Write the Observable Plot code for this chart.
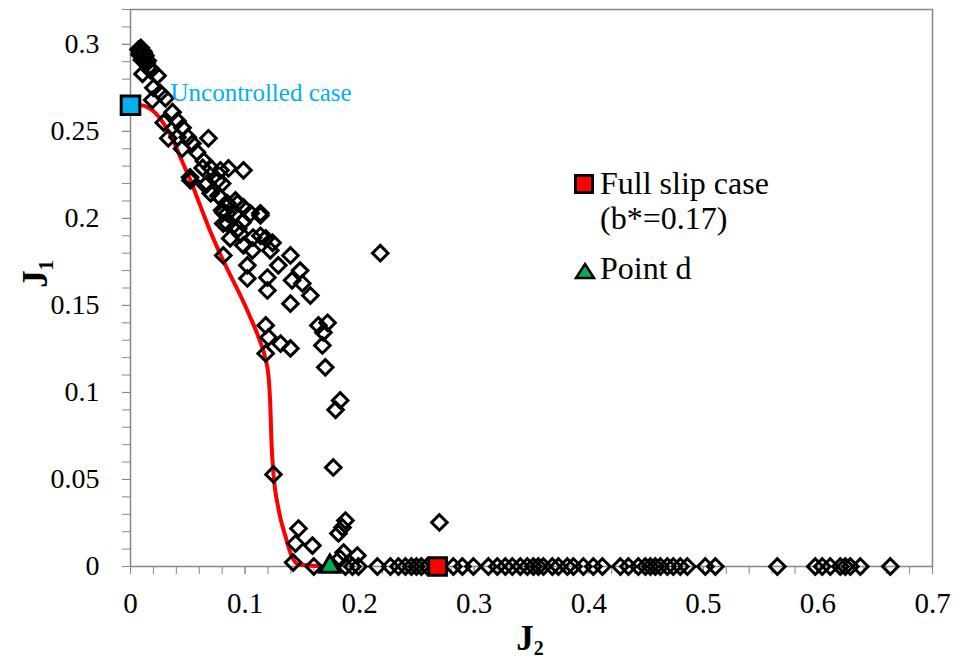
<!DOCTYPE html>
<html><head><meta charset="utf-8">
<script src="https://cdn.jsdelivr.net/npm/d3@7"></script>
<script src="https://cdn.jsdelivr.net/npm/@observablehq/plot@0.6"></script>
<style>body{margin:0;background:#fff} svg{display:block}</style>
</head><body><div id="chart"></div>
<script>
// Simulation results (diamonds)
const diamondJ2 = [0.007,0.009,0.011,0.008,0.012,0.010,0.014,0.016,0.0095,0.0115,0.013,0.015,0.0125,0.0085,
 0.0105,0.0175,0.0236,0.020,0.026,0.019,0.0305,0.0367,0.029,0.041,0.0454,0.033,0.041,0.050,0.054,0.068,0.045,0.058,0.064,0.052,0.063,0.070,0.0785,0.0855,0.0986,0.067,0.076,0.070,0.0785,0.0846,0.0934,0.081,0.0916,0.1134,0.0977,0.0846,
 0.0524,0.0654,0.080,0.0768,0.0916,0.0986,0.1047,0.1134,0.080,0.0846,0.081,0.094,0.096,0.087,0.107,0.1134,0.118,0.124,0.0986,0.1064,0.122,0.1396,0.081,0.129,0.102,0.148,0.102,0.1195,0.141,0.150,0.1195,0.157,0.1396,0.118,0.164,0.172,0.1684,0.1204,0.131,0.1396,0.118,0.1675,0.170,0.218,
 0.183,0.179,0.177,0.1248,0.1876,0.185,0.1815,0.1466,0.144,0.1588,0.142,0.160,0.186,0.198,0.183,0.2696,
 0.1876,0.1937,0.1990,0.2155,0.2269,0.2339,0.240,0.2452,0.2496,0.2539,0.2592,
 0.2818,0.2897,0.2993,0.3124,0.3202,0.3272,0.3333,0.3403,0.3464,0.3517,0.356,0.3604,0.3682,0.3735,0.3813,0.3866,0.3953,0.404,0.4119,0.4276,0.4346,0.4433,0.4494,0.4538,0.4581,0.4625,0.4686,0.4738,0.4799,0.486,0.5017,0.5105,0.5646,0.5977,0.6038,0.6108,0.6196,0.6239,0.6283,0.637,0.6632];
const diamondJ1 = [0.297,0.298,0.296,0.294,0.293,0.291,0.289,0.287,0.2965,0.295,0.2935,0.2905,0.291,0.2955,
 0.283,0.285,0.282,0.275,0.272,0.268,0.269,0.261,0.255,0.256,0.252,0.246,0.2466,0.2466,0.243,0.246,0.240,0.238,0.233,0.2236,0.229,0.229,0.2276,0.2287,0.2276,0.220,0.2218,0.2144,0.212,0.2086,0.2086,0.2034,0.2029,0.2029,0.1977,0.197,
 0.2218,0.219,0.220,0.213,0.2103,0.2063,0.2029,0.2017,0.2046,0.2029,0.197,0.194,0.191,0.1885,0.189,0.190,0.1885,0.186,0.1845,0.1816,0.1816,0.1787,0.1787,0.173,0.173,0.170,0.1655,0.166,0.1644,0.1626,0.1586,0.1557,0.151,0.1385,0.1385,0.140,0.1345,0.1316,0.128,0.1253,0.1224,0.127,0.1144,0.180,
 0.0954,0.090,0.0569,0.0529,0.0264,0.0224,0.019,0.0218,0.0132,0.012,0.0023,0,0.008,0.0063,0.0046,0.0253,
 0,0,0,0,0,0,0,0,0,0,0,
 0,0,0,0,0,0,0,0,0,0,0,0,0,0,0,0,0,0,0,0,0,0,0,0,0,0,0,0,0,0,0,0,0,0,0,0,0,0,0,0,0];
// Red curve
const curveJ2 = [0,0.0087,0.0201,0.0288,0.0384,0.0454,0.0524,0.0611,0.0689,0.0768,0.0855,0.0955,0.1050,0.1122,0.1175,0.1204,0.1222,0.123,0.1248,0.1291,0.1353,0.1405,0.1466,0.170];
const curveJ1 = [0.265,0.265,0.2615,0.2546,0.2431,0.2322,0.2218,0.2069,0.1937,0.1816,0.1695,0.1563,0.1425,0.131,0.1201,0.1098,0.0897,0.0724,0.0534,0.0333,0.0172,0.0063,0.0011,0];
// Special points
const uncontrolledJ2 = [0], uncontrolledJ1 = [0.265];
const fullSlipJ2 = [0.268], fullSlipJ1 = [0];
const pointDJ2 = [0.174], pointDJ1 = [0];
// Ticks
const xTicks = [0,0.1,0.2,0.3,0.4,0.5,0.6,0.7];
const xTickLabels = ["0","0.1","0.2","0.3","0.4","0.5","0.6","0.7"];
const yTicks = [0,0.05,0.1,0.15,0.2,0.25,0.3];
const yTickLabels = ["0","0.05","0.1","0.15","0.2","0.25","0.3"];
const xMinor = d3.range(0, 0.7001, 0.02);
const yMinor = d3.range(0, 0.3201, 0.01);

const diamonds = diamondJ2.map((x,i)=>({x, y: diamondJ1[i]}));
const curve = curveJ2.map((x,i)=>({x, y: curveJ1[i]}));
const pts = (xs, ys) => xs.map((x,i)=>({x, y: ys[i]}));

const gray = "#878787";
const serif = "Liberation Serif, Times New Roman, serif";

const chart = Plot.plot({
  width: 954, height: 658,
  marginLeft: 130, marginRight: 22, marginTop: 9, marginBottom: 92,
  style: {fontFamily: serif, fontSize: "28px", color: "black", background: "white", overflow: "visible"},
  x: {domain: [0, 0.7]},
  y: {domain: [0, 0.32]},
  marks: [
    Plot.axisX(xMinor, {tickSize: 8, stroke: gray, text: null, label: null}),
    Plot.axisX(xTicks, {tickSize: 8, tickPadding: 18, stroke: gray, fill: "black", tickFormat: (d,i)=>xTickLabels[i], label: null, fontSize: 29, fontFamily: serif}),
    Plot.axisY(yMinor, {tickSize: 8, stroke: gray, text: null, label: null}),
    Plot.axisY(yTicks, {tickSize: 8, tickPadding: 23, stroke: gray, fill: "black", tickFormat: (d,i)=>yTickLabels[i], label: null, fontSize: 28, fontFamily: serif}),
    Plot.frame({stroke: gray, strokeWidth: 1.5}),
    Plot.line(curve, {x: "x", y: "y", stroke: "#ff0000", strokeWidth: 4, curve: "monotone-x"}),
    Plot.dot(diamonds, {x: "x", y: "y", symbol: "diamond2", r: 7, stroke: "black", strokeWidth: 3, fill: "none"}),
    Plot.dot(pts(uncontrolledJ2, uncontrolledJ1), {x: "x", y: "y", symbol: "square", r: 10.5, fill: "#00b0f0", stroke: "black", strokeWidth: 3}),
    Plot.text(pts(uncontrolledJ2, uncontrolledJ1), {x: "x", y: "y", text: ()=> "Uncontrolled case", textAnchor: "start", dx: 40, dy: -12, fill: "#00b0f0", fontSize: 25, fontFamily: serif}),
    Plot.dot(pts(pointDJ2, pointDJ1), {x: "x", y: "y", symbol: "triangle", r: 7.4, fill: "#00b050", stroke: "black", strokeWidth: 3}),
    Plot.dot(pts(fullSlipJ2, fullSlipJ1), {x: "x", y: "y", symbol: "square", r: 10, fill: "#ff0000", stroke: "black", strokeWidth: 3})
  ]
});
document.getElementById("chart").appendChild(chart);

// Axis titles and legend
const svg = d3.select(chart);
const yT = svg.append("text").attr("transform", "translate(47,274) rotate(-90)")
  .attr("text-anchor","middle").style("font-family", serif).attr("font-weight","bold").attr("font-size", 35).attr("fill","black");
yT.append("tspan").text("J");
yT.append("tspan").attr("font-size", 20).attr("dy", 6).text("1");
const xT = svg.append("text").attr("x", 530).attr("y", 650)
  .attr("text-anchor","middle").style("font-family", serif).attr("font-weight","bold").attr("font-size", 35).attr("fill","black");
xT.append("tspan").text("J");
xT.append("tspan").attr("font-size", 20).attr("dy", 5).text("2");

const leg = svg.append("g").style("font-family", serif).attr("font-size", 32).attr("fill", "black").attr("text-anchor", "start");
leg.append("rect").attr("x", 575.5).attr("y", 175.5).attr("width", 17).attr("height", 17).attr("fill","#ff0000").attr("stroke","black").attr("stroke-width",3);
leg.append("text").attr("x", 600).attr("y", 194).text("Full slip case");
leg.append("text").attr("x", 600).attr("y", 229).text("(b*=0.17)");
leg.append("path").attr("d", "M585,264 L594,278 L576,278 Z").attr("fill","#00b050").attr("stroke","black").attr("stroke-width",2.5).attr("stroke-linejoin","miter");
leg.append("text").attr("x", 600).attr("y", 279).text("Point d");
</script>
</body></html>
